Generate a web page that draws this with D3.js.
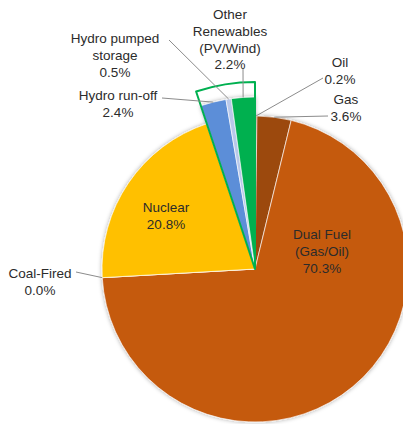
<!DOCTYPE html>
<html><head><meta charset="utf-8">
<script src="https://cdn.jsdelivr.net/npm/d3@7"></script>
<style>html,body{margin:0;padding:0;background:#fff;overflow:hidden}</style>
</head><body>
<svg id="c" width="403" height="424"></svg>
<script>
// Data
const categories = ["Oil","Gas","Dual Fuel (Gas/Oil)","Coal-Fired","Nuclear","Hydro run-off","Hydro pumped storage","Other Renewables (PV/Wind)"];
const shares = [0.2, 3.6, 70.3, 0.0, 20.8, 2.4, 0.5, 2.2];
const labelLines = [["Oil","0.2%"],["Gas","3.6%"],["Dual Fuel","(Gas/Oil)","70.3%"],["Coal-Fired","0.0%"],["Nuclear","20.8%"],["Hydro run-off","2.4%"],["Hydro pumped","storage","0.5%"],["Other","Renewables","(PV/Wind)","2.2%"]];
const highlighted = ["Hydro run-off","Hydro pumped storage","Other Renewables (PV/Wind)"];

// Styles / layout
const colors = ["#7a3608","#9c4a10","#c55a11","#7f7f7f","#ffc000","#5b8ed8","#b8c8ea","#00b050"];
const cx = 255, cy = 269, R = 153, Rx = 172, Rout = 187;
const labelPos = [
  {x:340,y:67,leader:true,from:[323,78]},
  {x:346,y:104,leader:true,from:[328,116]},
  {x:322,y:239,leader:false},
  {x:40,y:278,leader:true,from:[76,272]},
  {x:166,y:212,leader:false},
  {x:118,y:100,leader:true,from:[162,98]},
  {x:115,y:43,leader:true,from:[169,40]},
  {x:230,y:19,leader:true,from:[243,68]}
];
const lh = 16.8;

const svg = d3.select("#c");
const defs = svg.append("defs");
const f = defs.append("filter").attr("id","sh").attr("x","-20%").attr("y","-20%").attr("width","140%").attr("height","140%");
f.append("feDropShadow").attr("dx",0).attr("dy",0).attr("stdDeviation",2).attr("flood-color","#000").attr("flood-opacity",0.35);

const pie = d3.pie().sort(null).value(d=>d)(shares);
const g = svg.append("g").attr("transform",`translate(${cx},${cy})`);
const isHi = i => highlighted.includes(categories[i]);
const arcMain = d3.arc().innerRadius(0).outerRadius(R);
const arcHi = d3.arc().innerRadius(0).outerRadius(Rx);

const hiIdx = pie.map((p,i)=>i).filter(isHi);
const a0 = d3.min(hiIdx, i=>pie[i].startAngle), a1 = d3.max(hiIdx, i=>pie[i].endAngle);

g.append("g").attr("filter","url(#sh)").selectAll("path").data(pie).join("path")
  .attr("d",(d,i)=> isHi(i) ? arcHi(d) : arcMain(d))
  .attr("fill",(d,i)=>colors[i])
  .attr("stroke","#fff").attr("stroke-opacity",0.8).attr("stroke-width",0.8);

g.append("path").attr("d", d3.arc().innerRadius(0).outerRadius(Rout)({startAngle:a0,endAngle:a1}))
  .attr("fill","none").attr("stroke","#00b050").attr("stroke-width",2).attr("stroke-linejoin","round");

pie.forEach((p,i)=>{
  const L = labelPos[i];
  if(!L.leader) return;
  const r = isHi(i) ? Rx : R;
  const m = (p.startAngle+p.endAngle)/2;
  const ex = cx + Math.sin(m)*r, ey = cy - Math.cos(m)*r;
  svg.append("polyline").attr("points",`${L.from[0]},${L.from[1]} ${ex},${ey}`)
    .attr("fill","none").attr("stroke","#8c8c8c").attr("stroke-width",1);
});

labelLines.forEach((lines,i)=>{
  const L = labelPos[i];
  const t = svg.append("text").attr("text-anchor","middle")
    .attr("font-family","Liberation Sans, Arial, sans-serif").attr("font-size",13.5).attr("fill","#2b2b2b");
  lines.forEach((s,k)=> t.append("tspan").attr("x",L.x).attr("y",L.y+k*lh).text(s));
});
</script>
</body></html>
